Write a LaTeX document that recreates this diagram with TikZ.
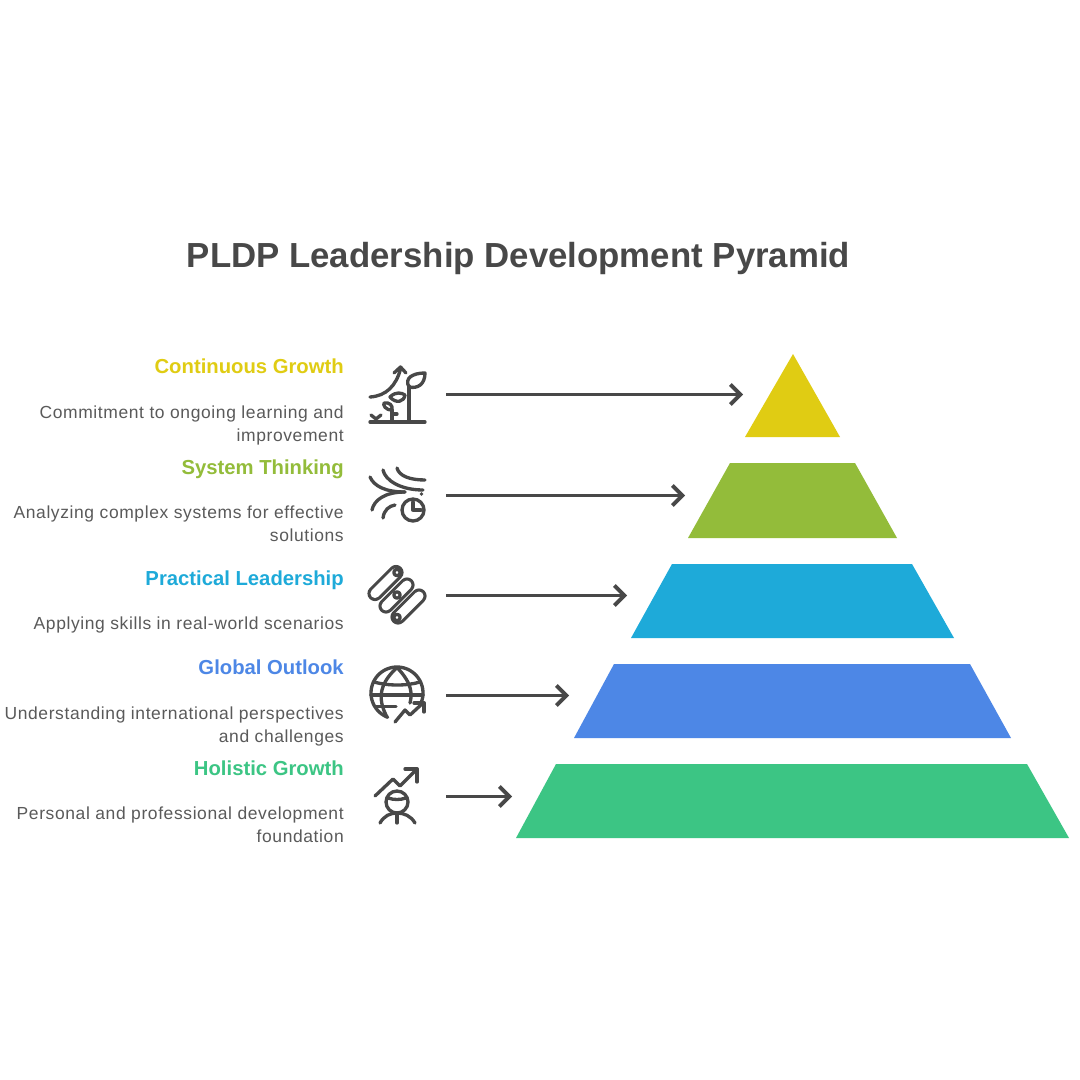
\documentclass[tikz,border=0pt]{standalone}
\usepackage{fontspec}
\setmainfont{Liberation Sans}
\newfontfamily\bodyfont[LetterSpace=3.5]{Liberation Sans}
\usetikzlibrary{arrows.meta}
\definecolor{cyellow}{HTML}{E0CC13}
\definecolor{colive}{HTML}{93BC3A}
\definecolor{ccyan}{HTML}{1EAAD9}
\definecolor{cblue}{HTML}{4D87E6}
\definecolor{cgreen}{HTML}{3CC584}
\definecolor{cink}{HTML}{484848}
\definecolor{cbody}{HTML}{5A5A5A}
\tikzset{
  x=0.75pt,y=-0.75pt,
  titletext/.style={font=\fontsize{26.1}{32}\selectfont\bfseries,text=cink,inner sep=0,anchor=base},
  headtext/.style={font=\fontsize{15.2}{18}\selectfont\bfseries,inner sep=0,anchor=base east,align=right},
  bodytext/.style={font=\bodyfont\fontsize{13.1}{17.2}\selectfont,text=cbody,inner sep=0,anchor=north east,align=right},
  pointer/.style={draw=cink,line width=2.8pt,-{Straight Barb[length=7.5pt,width=15pt,line width=2.8pt]}},
  glyph/.style={draw=cink,line width=2.5pt,line cap=round,line join=round,fill=none},
  capouter/.style={draw=cink,line width=11.4pt,line cap=round},
  capinner/.style={draw=white,line width=6.8pt,line cap=round},
}
\begin{document}
\begin{tikzpicture}
\useasboundingbox (0,0) rectangle (1080,1080);
\fill[white] (0,0) rectangle (1080,1080);
\node[titletext] (title) at (518.5,268) {PLDP Leadership Development Pyramid};

% tiers
\fill[cyellow] (793,354) -- (840,437) -- (745,437) -- cycle;
\fill[colive] (730,463) -- (855,463) -- (897,538) -- (688,538) -- cycle;
\fill[ccyan] (672,564) -- (912,564) -- (954,638) -- (631,638) -- cycle;
\fill[cblue] (614,664) -- (970,664) -- (1011,738) -- (574,738) -- cycle;
\fill[cgreen] (556,764) -- (1027,764) -- (1069,838) -- (516,838) -- cycle;

% labels
\node[headtext,text=cyellow] (h1) at (344,373.5) {Continuous Growth};
\node[bodytext] (b1) at (344,405.5) {Commitment to ongoing learning and\\improvement};
\node[headtext,text=colive] (h2) at (344,474) {System Thinking};
\node[bodytext] (b2) at (344,506) {Analyzing complex systems for effective\\solutions};
\node[headtext,text=ccyan] (h3) at (344,585) {Practical Leadership};
\node[bodytext] (b3) at (344,617) {Applying skills in real-world scenarios};
\node[headtext,text=cblue] (h4) at (344,674.5) {Global Outlook};
\node[bodytext] (b4) at (344,706.5) {Understanding international perspectives\\and challenges};
\node[headtext,text=cgreen] (h5) at (344,775) {Holistic Growth};
\node[bodytext] (b5) at (344,807) {Personal and professional development\\foundation};

% connectors
\coordinate (s1) at (446,394.5); \coordinate (t1) at (743,394.5);
\coordinate (s2) at (446,495.5); \coordinate (t2) at (685,495.5);
\coordinate (s3) at (446,595.5); \coordinate (t3) at (627,595.5);
\coordinate (s4) at (446,695.5); \coordinate (t4) at (569,695.5);
\coordinate (s5) at (446,796.5); \coordinate (t5) at (512,796.5);
\draw[pointer] (s1) -- (t1);
\draw[pointer] (s2) -- (t2);
\draw[pointer] (s3) -- (t3);
\draw[pointer] (s4) -- (t4);
\draw[pointer] (s5) -- (t5);

% icon: plant
\draw[glyph] (370,422) -- (425,422);
\draw[glyph] (409,422) -- (409,386);
\draw[glyph] (409,387) .. controls (404,378) and (413,373) .. (425,373) .. controls (425,384) and (418,389) .. (409,387) -- cycle;
\draw[glyph] (390,397) .. controls (396,391) and (402,393) .. (405,395) .. controls (404,402) and (396,404) .. (390,397) -- cycle;
\draw[glyph] (370,397) .. controls (386,396) and (396,386) .. (400.5,369);
\draw[glyph] (394,373) -- (400.5,367) -- (406,373);
\draw[glyph] (392,422) -- (392,410);
\draw[glyph] (392,410) .. controls (385,410) and (383,405) .. (384,403) .. controls (389,402) and (393,405) .. (392,410) -- cycle;
\draw[glyph] (392,414) -- (397,414);
\draw[glyph] (371,415) -- (376,419) -- (381,415);

% icon: flow with clock
\draw[glyph] (370,477) .. controls (374,486) and (385,492) .. (405,492);
\draw[glyph] (372,510) .. controls (374,500) and (385,492) .. (405,492);
\draw[glyph] (383,470) .. controls (385,480) and (400,490) .. (423,490);
\draw[glyph] (397,468) .. controls (399,476) and (410,480) .. (425,480);
\draw[glyph] (383,518) .. controls (384,510) and (389,506) .. (395,505);
\draw[glyph] (413,510) circle (11);
\draw[glyph] (413,502) -- (413,510) -- (421,510);
\fill[cink] (421.5,494) circle (1.8);

% icon: capsules
\draw[capouter] (375,593.5) -- (396,572.5);
\draw[capinner] (375,593.5) -- (396,572.5);
\draw[capouter] (386,606) -- (407,585);
\draw[capinner] (386,606) -- (407,585);
\draw[capouter] (398,617) -- (419,596);
\draw[capinner] (398,617) -- (419,596);
\draw[glyph] (397,572.5) circle (3.2);
\draw[glyph] (397,595) circle (3.2);
\draw[glyph] (397,617.5) circle (3.2);

% icon: globe
\draw[glyph] plot[domain=111:382,samples=70,smooth] ({397+26*cos(\x)},{693+26*sin(\x)});
\draw[glyph] (387,717) .. controls (378,700) and (378,685) .. (397,667.5);
\draw[glyph] (397,667.5) .. controls (413,684) and (412,695) .. (410,703);
\draw[glyph] (374,682) .. controls (388,686) and (407,686) .. (420,682);
\draw[glyph] (371,695) -- (423,695);
\draw[glyph] (375,706.5) -- (396,706.5);
\draw[glyph] (395,722) -- (405,710) -- (410,715) -- (423,703);
\draw[glyph] (414,703) -- (424,703) -- (424,712);

% icon: person with arrow
\draw[glyph] (375,796) -- (393,779) -- (400,786) -- (417,769);
\draw[glyph] (405,769) -- (417,769) -- (417,782);
\draw[glyph] (397,802) circle (11);
\draw[glyph] (388,798) .. controls (394,800) and (400,800) .. (406,798);
\draw[glyph] (397,813) -- (397,823);
\draw[glyph] (380,823) .. controls (384,816) and (390,813) .. (397,813) .. controls (404,813) and (411,816) .. (415,823);
\end{tikzpicture}
\end{document}
